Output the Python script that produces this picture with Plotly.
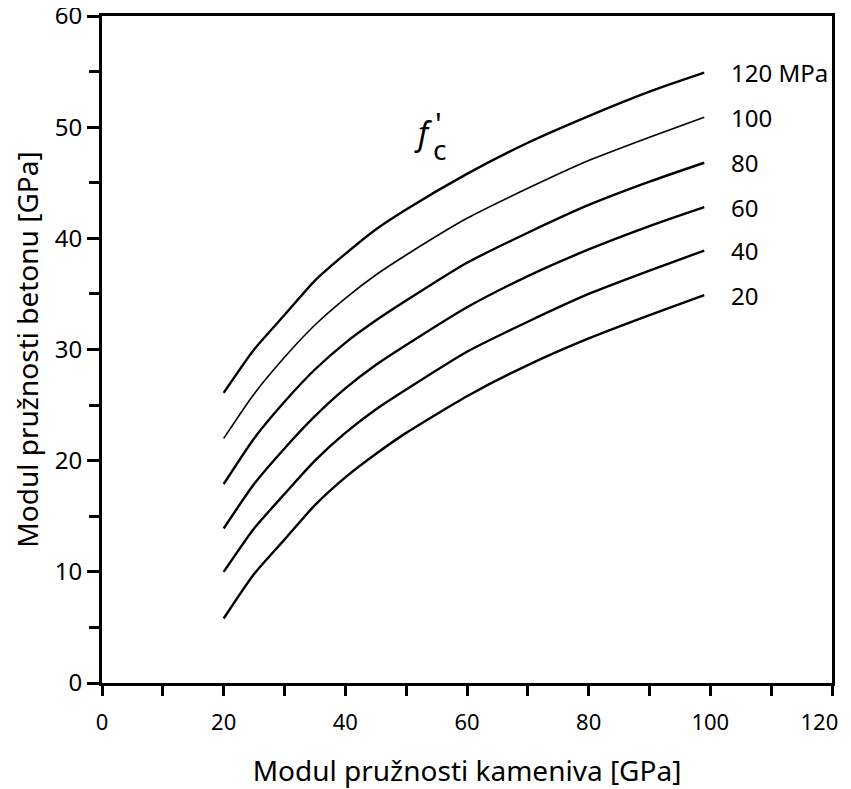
import plotly.graph_objects as go

# Aggregate modulus (x) grid, GPa
x_vals = [20, 25, 30, 35, 40, 45, 50, 60, 70, 80, 90, 99]

# Concrete modulus (y), GPa, for each concrete strength f'c
y_120 = [26.1, 30.0, 33.1, 36.2, 38.6, 40.8, 42.6, 45.8, 48.6, 51.0, 53.2, 54.9]
y_100 = [22.0, 26.0, 29.3, 32.2, 34.6, 36.7, 38.5, 41.8, 44.5, 47.0, 49.1, 50.9]
y_80 = [17.9, 22.0, 25.3, 28.2, 30.6, 32.6, 34.4, 37.8, 40.5, 43.0, 45.1, 46.8]
y_60 = [13.9, 17.9, 21.1, 24.0, 26.5, 28.6, 30.4, 33.8, 36.6, 39.0, 41.1, 42.8]
y_40 = [10.0, 13.9, 17.0, 20.0, 22.5, 24.6, 26.4, 29.8, 32.5, 35.0, 37.1, 38.9]
y_20 = [5.8, 9.8, 12.9, 16.0, 18.5, 20.6, 22.5, 25.8, 28.6, 31.0, 33.1, 34.9]

series_labels = ["120 MPa", "100", "80", "60", "40", "20"]
series_values = [y_120, y_100, y_80, y_60, y_40, y_20]

x_ticks = [0, 20, 40, 60, 80, 100, 120]
x_ticktext = ["0", "20", "40", "60", "80", "100",
              "120<span style='color:rgba(0,0,0,0)'>00</span>"]
y_ticks = [0, 10, 20, 30, 40, 50, 60]

FONT = "Noto Sans"

fig = go.Figure()
widths = [2.4, 1.6, 2.4, 2.4, 2.4, 2.4]
for lab, ys, w in zip(series_labels, series_values, widths):
    fig.add_trace(go.Scatter(x=x_vals, y=ys, mode="lines", name=lab,
                             line=dict(color="black", width=w, shape="spline", smoothing=0.6),
                             showlegend=False))
    fig.add_annotation(x=x_vals[-1] + 4, y=ys[-1], text=lab, showarrow=False,
                       xanchor="left", yanchor="middle",
                       font=dict(family=FONT, size=24, color="black"))

# f'c label
fig.add_annotation(x=52.8, y=49.5, text="<i>f</i>", showarrow=False,
                   font=dict(family=FONT, size=32, color="black"))
fig.add_annotation(x=55.3, y=50.3, text="'", showarrow=False,
                   font=dict(family=FONT, size=30, color="black"))
fig.add_annotation(x=55.4, y=48.0, text="c", showarrow=False,
                   font=dict(family=FONT, size=28, color="black"))

axis_common = dict(showgrid=False, zeroline=False, showline=True, linecolor="black",
                   linewidth=3, mirror=True, ticks="outside", tickcolor="black",
                   tickwidth=2.5, automargin=False, ticklabeloverflow="allow")

fig.update_xaxes(range=[0, 120], tickvals=x_ticks, ticktext=x_ticktext, ticklen=10,
                 ticklabelstandoff=8,
                 tickfont=dict(family=FONT, size=22, color="black"),
                 minor=dict(dtick=10, ticks="outside", ticklen=10, tickcolor="black", tickwidth=2.5),
                 title=dict(text="Modul pružnosti kameniva [GPa]", standoff=26,
                            font=dict(family=FONT, size=28, color="black")),
                 **axis_common)
fig.update_yaxes(range=[0, 60], tickvals=y_ticks, ticklen=12,
                 ticklabelstandoff=0,
                 tickfont=dict(family=FONT, size=24, color="black"),
                 minor=dict(dtick=5, ticks="outside", ticklen=10, tickcolor="black", tickwidth=2.5),
                 title=dict(text="Modul pružnosti betonu [GPa]", standoff=24,
                            font=dict(family=FONT, size=28, color="black")),
                 **axis_common)

# page body has an 8px margin; figure sized so the page fits the 851x789 window
fig.update_layout(width=843, height=781, plot_bgcolor="white", paper_bgcolor="white",
                  margin=dict(l=94, r=19, t=8, b=106))

fig.write_html("out.html")
